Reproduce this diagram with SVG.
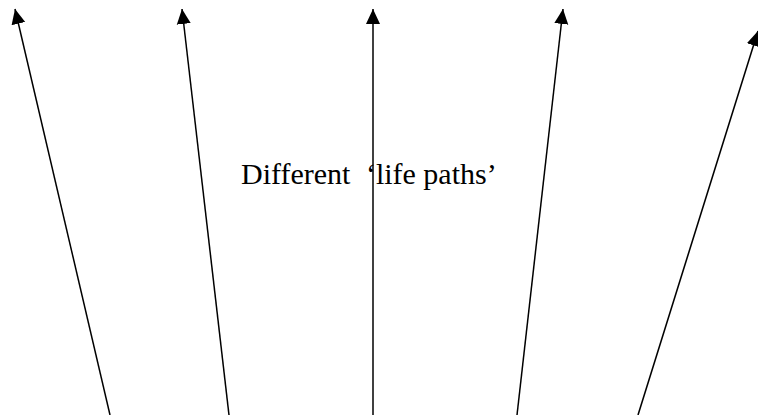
<svg xmlns="http://www.w3.org/2000/svg" width="758" height="415" viewBox="0 0 758 415">
<style>
.c{stroke:#000;stroke-width:1.5;fill:none;marker-end:url(#ah)}
.t{font-family:"Liberation Serif","Times New Roman",serif;font-size:30px;fill:#000}
</style>
<defs>
<marker id="ah" markerUnits="userSpaceOnUse" markerWidth="16" markerHeight="16" viewBox="0 0 16 16" refX="15" refY="8" orient="auto">
<path d="M0,1 L15,8 L0,15 Z" fill="#000"/>
</marker>
</defs>
<rect width="758" height="415" fill="#fff"/>
<g id="connectors">
<path class="c" d="M110,415 L15,9"/>
<path class="c" d="M229,415 L182,9"/>
<path class="c" d="M373,415 L373,9"/>
<path class="c" d="M517,415 L563,9"/>
<path class="c" d="M638,415 L758,31"/>
</g>
<g id="label">
<text class="t" x="241" y="184">Different <tspan dx="8">‘life paths’</tspan></text>
</g>
</svg>
